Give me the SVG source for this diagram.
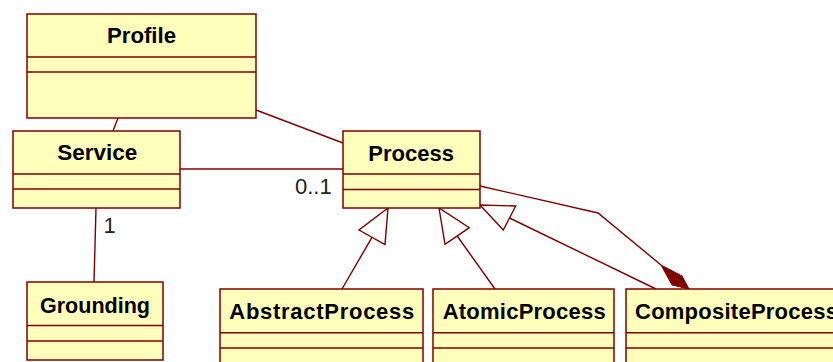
<svg xmlns="http://www.w3.org/2000/svg" width="833" height="362" viewBox="0 0 833 362">
  <style>
    .box { fill: #FFFFBB; stroke: #800000; stroke-width: 1.5; }
    .sep { stroke: #800000; stroke-width: 1.5; }
    .name { font-family: "Liberation Sans", Arial, sans-serif; font-weight: bold; font-size: 22px; fill: #000000; }
    .lbl { font-family: "Liberation Sans", Arial, sans-serif; font-size: 22px; fill: #222222; }
    .edge { fill: none; stroke: #800000; stroke-width: 1.4; }
    .hollow { fill: #FFFFFF; stroke: #800000; stroke-width: 1.4; stroke-linejoin: miter; }
    .solid { fill: #800000; stroke: #800000; stroke-width: 1; }
  </style>
  <rect width="833" height="362" fill="#FFFFFF"/>

  <!-- associations, generalizations and composition -->
  <g id="connectors">
    <line class="edge" x1="118" y1="118" x2="113" y2="131"/>
    <line class="edge" x1="256" y1="110" x2="343" y2="143"/>
    <line class="edge" x1="180" y1="169" x2="343" y2="169"/>
    <text class="lbl" x="295" y="193.5">0..1</text>
    <line class="edge" x1="96" y1="208" x2="94" y2="282"/>
    <text class="lbl" x="103.5" y="233">1</text>

    <line class="edge" x1="342" y1="289" x2="372" y2="237.3"/>
    <polygon class="hollow" points="388,208 359,230 385,244.5"/>

    <line class="edge" x1="495" y1="289" x2="457.2" y2="236"/>
    <polygon class="hollow" points="439,208 445,244.3 469.3,227.7"/>

    <line class="edge" x1="656" y1="289" x2="509.5" y2="218"/>
    <polygon class="hollow" points="480,205 515.7,206 503.3,230"/>

    <polyline class="edge" points="480,186 598,213 661,265"/>
    <polygon class="solid" points="661,265 682,276 689,289 672,285"/>
  </g>

  <g id="Profile">
    <rect class="box" x="27" y="14" width="229" height="104"/>
    <line class="sep" x1="27" y1="57" x2="256" y2="57"/>
    <line class="sep" x1="27" y1="72" x2="256" y2="72"/>
    <text class="name" x="141.5" y="43.3" text-anchor="middle" textLength="69" lengthAdjust="spacingAndGlyphs">Profile</text>
  </g>

  <g id="Service">
    <rect class="box" x="13" y="131" width="167" height="77"/>
    <line class="sep" x1="13" y1="174" x2="180" y2="174"/>
    <line class="sep" x1="13" y1="189" x2="180" y2="189"/>
    <text class="name" x="97.3" y="160" text-anchor="middle" textLength="80" lengthAdjust="spacingAndGlyphs">Service</text>
  </g>

  <g id="Process">
    <rect class="box" x="343" y="131" width="137" height="77"/>
    <line class="sep" x1="343" y1="174" x2="480" y2="174"/>
    <line class="sep" x1="343" y1="189.5" x2="480" y2="189.5"/>
    <text class="name" x="411.2" y="160.7" text-anchor="middle" textLength="85.7" lengthAdjust="spacingAndGlyphs">Process</text>
  </g>

  <g id="Grounding">
    <rect class="box" x="27" y="282" width="136" height="78"/>
    <line class="sep" x1="27" y1="325.5" x2="163" y2="325.5"/>
    <line class="sep" x1="27" y1="341" x2="163" y2="341"/>
    <text class="name" x="95" y="313.3" text-anchor="middle" textLength="110" lengthAdjust="spacingAndGlyphs">Grounding</text>
  </g>

  <g id="AbstractProcess">
    <rect class="box" x="220" y="289" width="203" height="90"/>
    <line class="sep" x1="220" y1="332.7" x2="423" y2="332.7"/>
    <line class="sep" x1="220" y1="348" x2="423" y2="348"/>
    <text class="name" x="321.8" y="319.3" text-anchor="middle" textLength="185" lengthAdjust="spacing">AbstractProcess</text>
  </g>

  <g id="AtomicProcess">
    <rect class="box" x="433" y="289" width="181" height="90"/>
    <line class="sep" x1="433" y1="332.7" x2="614" y2="332.7"/>
    <line class="sep" x1="433" y1="348" x2="614" y2="348"/>
    <text class="name" x="524.2" y="319.3" text-anchor="middle" textLength="163" lengthAdjust="spacing">AtomicProcess</text>
  </g>

  <!-- this class runs past the right edge of the canvas -->
  <g id="CompositeProcess">
    <rect class="box" x="626" y="289" width="222" height="90"/>
    <line class="sep" x1="626" y1="332.7" x2="848" y2="332.7"/>
    <line class="sep" x1="626" y1="348" x2="848" y2="348"/>
    <text class="name" x="635" y="319.3" textLength="203" lengthAdjust="spacing">CompositeProcess</text>
  </g>
</svg>
